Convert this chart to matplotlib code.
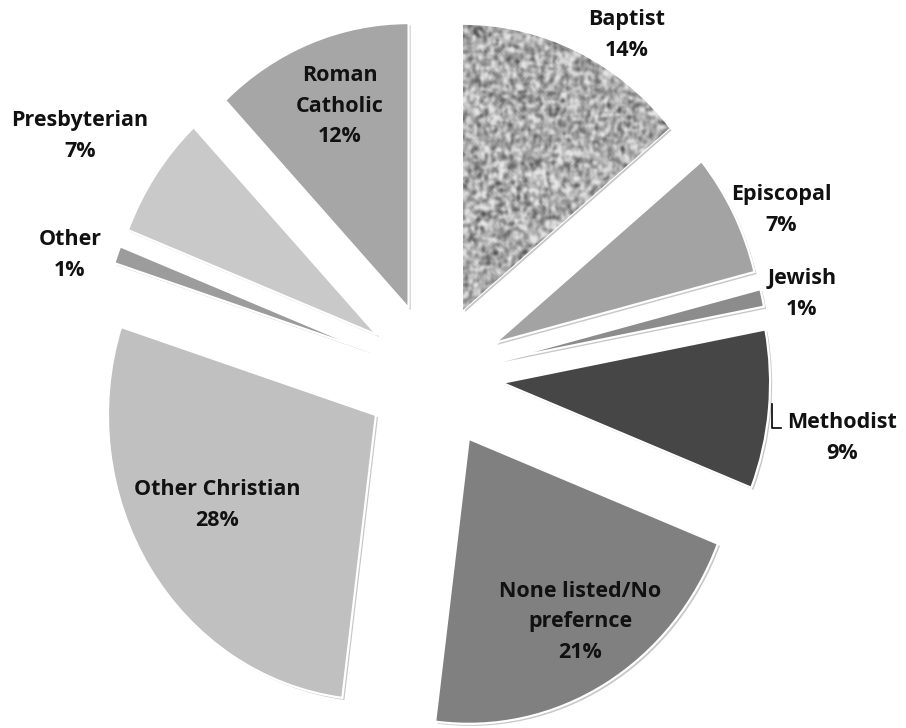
import numpy as np
import matplotlib
matplotlib.use('Agg')
import matplotlib.pyplot as plt
import matplotlib.patheffects as pe
from matplotlib.lines import Line2D

W, H = 906, 728

# data, clockwise from 12 o'clock
labels = ['Baptist', 'Episcopal', 'Jewish', 'Methodist', 'None listed/No\nprefernce',
          'Other Christian', 'Other', 'Presbyterian', 'Roman\nCatholic']
shares = [14, 7, 1, 9, 21, 28, 1, 7, 12]

colors = ['#b4b4b4', '#a3a3a3', '#8c8c8c', '#464646', '#808080',
          '#c0c0c0', '#9c9c9c', '#c9c9c9', '#a6a6a6']

# where the label blocks sit (pixel centres in the original picture)
label_px = [(627, 35), (781, 210), (802, 294), (842, 438), (580, 622),
            (217, 505), (70, 255), (80, 136), (340, 106)]

fig = plt.figure(figsize=(W / 100, H / 100), dpi=100)
ax = fig.add_axes([0, 0, 1, 1])

wedges, _ = ax.pie(shares, explode=[0.256] * len(shares), startangle=90,
                   counterclock=False, colors=colors,
                   wedgeprops=dict(edgecolor='white', linewidth=1.6))

for w in wedges:
    w.set_path_effects([pe.SimplePatchShadow(offset=(1.5, -1.5), shadow_rgbFace='k', alpha=0.22),
                        pe.Normal()])

# granite-like texture for the Baptist slice
rng = np.random.default_rng(7)
noise = rng.normal(size=(150, 120))
noise = (noise + np.roll(noise, 1, 0) + np.roll(noise, -1, 0)
         + np.roll(noise, 1, 1) + np.roll(noise, -1, 1)) / 5
noise = (noise - noise.mean()) / noise.std()
tex = np.clip(0.68 + 0.14 * noise, 0.25, 0.90)
bb = wedges[0].get_path().get_extents()
im = ax.imshow(tex, cmap='gray', vmin=0, vmax=1, aspect='auto',
               extent=(bb.x0, bb.x1, bb.y0, bb.y1), interpolation='bicubic', zorder=1.5)
im.set_clip_path(wedges[0])

ax.set_aspect('auto')
ax.set_xlim(-1.619, 1.762)
ax.set_ylim(-1.235, 1.319)
ax.axis('off')

for lab, s, (px, py) in zip(labels, shares, label_px):
    fig.text(px / W, 1 - py / H, f'{lab}\n{s}%', ha='center', va='center',
             fontsize=15.5, fontweight='bold', family='Open Sans', color='#111111',
             linespacing=1.62)

# little leader line at Methodist
fig.add_artist(Line2D([772 / W, 772 / W, 781 / W],
                      [1 - 404 / H, 1 - 428 / H, 1 - 428 / H],
                      color='black', linewidth=1.2))

fig.savefig('out.png', dpi=100)
